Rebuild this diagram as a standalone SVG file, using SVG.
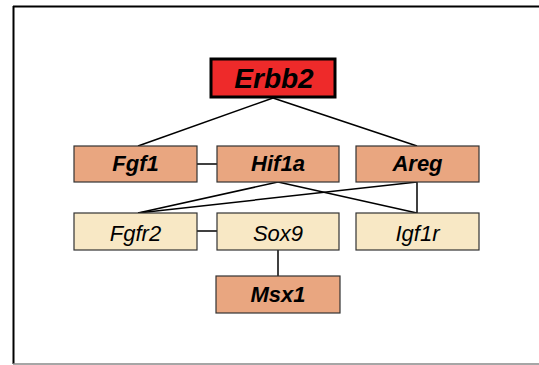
<svg xmlns="http://www.w3.org/2000/svg" width="539" height="365" viewBox="0 0 539 365">
<style>
.box{stroke:#333;stroke-width:1.2}
.l2{fill:#E9A680}
.l3{fill:#F8E8C5}
.t{font-family:"Liberation Sans",Arial,sans-serif;font-style:italic;font-size:22px;text-anchor:middle;fill:#000}
.b{font-weight:bold}
.big{font-size:28px}
.c{stroke:#000;stroke-width:1.5;fill:none}
</style>
<rect x="0" y="0" width="539" height="365" fill="#fff"/>
<line x1="13.5" y1="6" x2="13.5" y2="364" stroke="#000" stroke-width="2"/>
<line x1="13" y1="6.5" x2="539" y2="6.5" stroke="#000" stroke-width="2"/>
<line x1="13" y1="364" x2="539" y2="364" stroke="#888" stroke-width="1.5"/>
<g id="connectors">
<line class="c" x1="273" y1="98" x2="138" y2="146"/>
<line class="c" x1="273" y1="98" x2="417" y2="146"/>
<line class="c" x1="197" y1="164" x2="217" y2="164"/>
<line class="c" x1="278" y1="182" x2="138" y2="213"/>
<line class="c" x1="278" y1="182" x2="417" y2="213"/>
<line class="c" x1="417" y1="182" x2="138" y2="213"/>
<line class="c" x1="417" y1="182" x2="417" y2="213"/>
<line class="c" x1="197" y1="231" x2="217" y2="231"/>
<line class="c" x1="278" y1="250" x2="278" y2="276"/>
</g>
<g id="Erbb2">
<rect x="211" y="59" width="124" height="38" fill="#EE2A2A" stroke="#000" stroke-width="3"/>
<text class="t b big" x="274" y="88">Erbb2</text>
</g>
<g id="Fgf1">
<rect class="box l2" x="74" y="146" width="123" height="36"/>
<text class="t b" x="135.5" y="171">Fgf1</text>
</g>
<g id="Hif1a">
<rect class="box l2" x="217" y="146" width="122" height="36"/>
<text class="t b" x="278" y="171">Hif1a</text>
</g>
<g id="Areg">
<rect class="box l2" x="356" y="146" width="123" height="36"/>
<text class="t b" x="417.5" y="171">Areg</text>
</g>
<g id="Fgfr2">
<rect class="box l3" x="74" y="213" width="123" height="37"/>
<text class="t" x="135.5" y="241">Fgfr2</text>
</g>
<g id="Sox9">
<rect class="box l3" x="217" y="213" width="122" height="37"/>
<text class="t" x="278" y="241">Sox9</text>
</g>
<g id="Igf1r">
<rect class="box l3" x="356" y="213" width="123" height="37"/>
<text class="t" x="417.5" y="241">Igf1r</text>
</g>
<g id="Msx1">
<rect class="box l2" x="216" y="276" width="124" height="37"/>
<text class="t b" x="278" y="302">Msx1</text>
</g>
</svg>
